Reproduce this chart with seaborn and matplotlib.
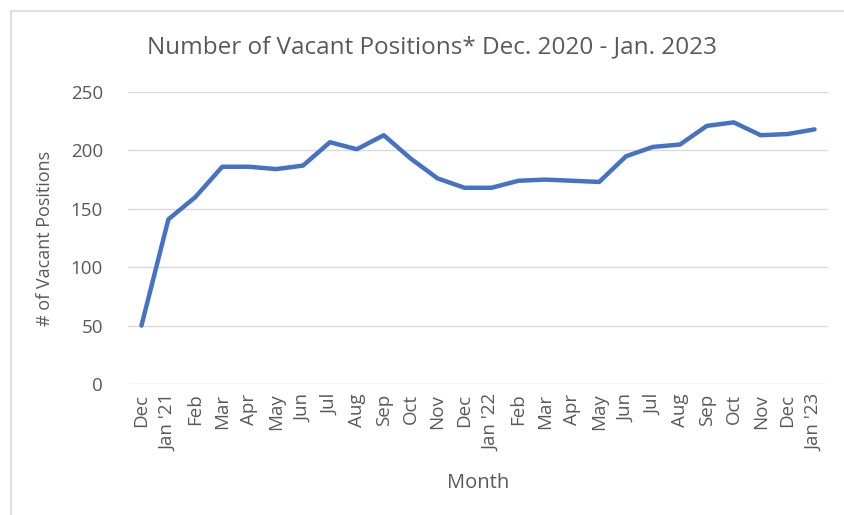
import numpy as np
import pandas as pd
import matplotlib
matplotlib.use('Agg')
import matplotlib.pyplot as plt
from matplotlib.lines import Line2D
import seaborn as sns

months = ['Dec', "Jan '21", 'Feb', 'Mar', 'Apr', 'May', 'Jun', 'Jul', 'Aug', 'Sep', 'Oct', 'Nov', 'Dec',
          "Jan '22", 'Feb', 'Mar', 'Apr', 'May', 'Jun', 'Jul', 'Aug', 'Sep', 'Oct', 'Nov', 'Dec', "Jan '23"]
vacant = [50, 141, 160, 186, 186, 184, 187, 207, 201, 213, 193, 176, 168,
          168, 174, 175, 174, 173, 195, 203, 205, 221, 224, 213, 214, 218]
yticks = [0, 50, 100, 150, 200, 250]

df = pd.DataFrame({'idx': np.arange(len(months)), 'vacant': vacant})

sns.set_style('white')
plt.rcParams['font.family'] = ['Open Sans', 'DejaVu Sans']
grey = '#595959'

fig = plt.figure(figsize=(8.45, 5.15), dpi=100)
ax = fig.add_axes([128 / 845, 1 - 384 / 515, 700 / 845, 292 / 515])

sns.lineplot(data=df, x='idx', y='vacant', ax=ax, color='#4472C4', linewidth=3.2,
             solid_joinstyle='round', solid_capstyle='round')

ax.set_xlim(-0.5, len(months) - 0.5)
ax.set_ylim(0, 250)
ax.set_yticks(yticks)
ax.set_xticks(range(len(months)))
ax.set_xticklabels(months, rotation=90, fontsize=13.5, color=grey)
ax.tick_params(axis='y', labelsize=13.5, labelcolor=grey, length=0, pad=18)
ax.tick_params(axis='x', length=0, pad=7)
ax.grid(axis='y', color='#d9d9d9', linewidth=1)
ax.set_axisbelow(True)
for s in ax.spines.values():
    s.set_visible(False)

ax.set_xlabel('Month', fontsize=14.5, color=grey, labelpad=16)
ax.set_ylabel('# of Vacant Positions', fontsize=13, color=grey)
ax.yaxis.set_label_coords(-0.105, 0.5)
fig.text(432 / 845, 1 - 47 / 515, 'Number of Vacant Positions* Dec. 2020 - Jan. 2023',
         ha='center', va='center', fontsize=17.5, color=grey)

# chart area border (top and left edges visible)
fig.add_artist(Line2D([11 / 845, 11 / 845], [0, 1 - 11 / 515], transform=fig.transFigure,
                      color='#d9d9d9', linewidth=1.2))
fig.add_artist(Line2D([11 / 845, 1], [1 - 11 / 515, 1 - 11 / 515], transform=fig.transFigure,
                      color='#d9d9d9', linewidth=1.2))

fig.savefig('out.png', dpi=100)
